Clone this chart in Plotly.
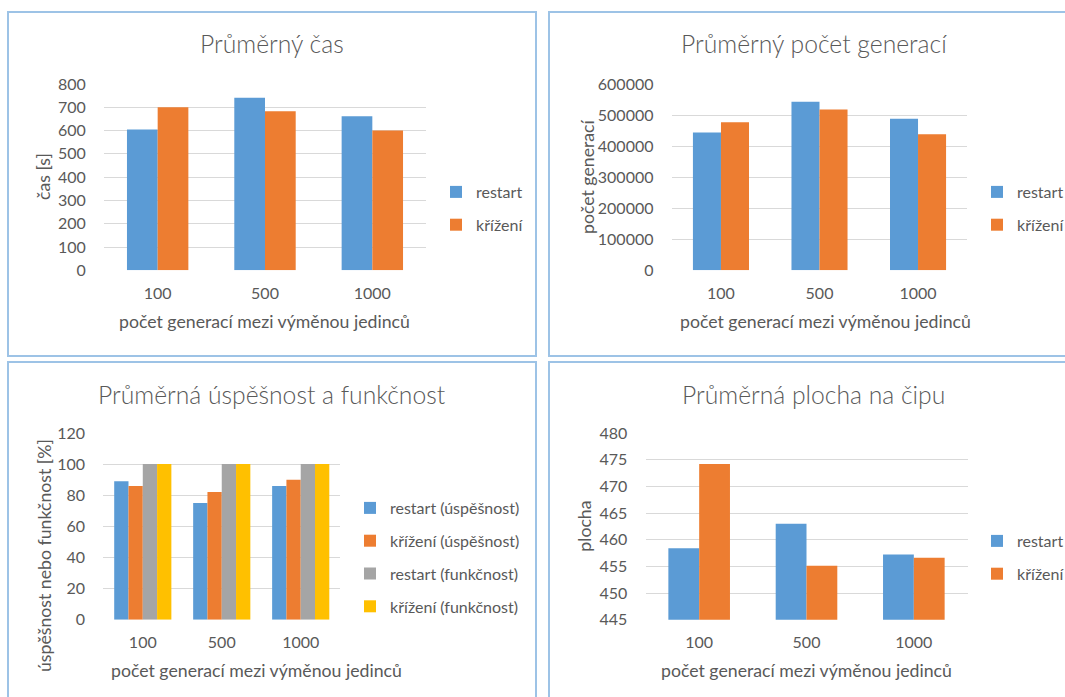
import plotly.graph_objects as go

W, H = 1065, 697

# ---------------- data ----------------
categories = ["100", "500", "1000"]

cas_restart = [605, 741, 661]
cas_krizeni = [700, 683, 600]

gen_restart = [444000, 543000, 488000]
gen_krizeni = [477000, 518000, 438000]

usp_restart = [89, 75, 86]
usp_krizeni = [86, 82, 90]
fun_restart = [100, 100, 100]
fun_krizeni = [100, 100, 100]

plocha_restart = [458.4, 463.0, 457.2]
plocha_krizeni = [474.2, 455.1, 456.6]

titles = ["Průměrný čas", "Průměrný počet generací",
          "Průměrná úspěšnost a funkčnost", "Průměrná plocha na čipu"]
ytitles = ["čas [s]", "počet generací", "úspěšnost nebo funkčnost [%]", "plocha"]
xtitle = "počet generací mezi výměnou jedinců"

# ---------------- style ----------------
BLUE, ORANGE, GRAY, YELLOW = "#5B9BD5", "#ED7D31", "#A5A5A5", "#FFC000"
TXT = "#595959"
GRID = "#D9D9D9"
BORDER = "#9DC3E6"
FONT = "Lato"


def px(x):
    return x / W


def py(y):
    return 1 - y / H


fig = go.Figure()

# plot areas in pixels: (x0, x1, ytop, ybottom)
areas = [
    (104, 426, 84, 270.3),
    (671.7, 967.3, 84, 270.3),
    (103.3, 340.2, 433, 619.7),
    (645.5, 967.5, 433, 619.7),
]
yranges = [[0, 800], [0, 600000], [0, 120], [445, 480]]
ydticks = [100, 100000, 20, 5]
bargaps = [0.428, 0.431, 0.276, 0.426]

panels = [
    [("restart", cas_restart, BLUE), ("křížení", cas_krizeni, ORANGE)],
    [("restart", gen_restart, BLUE), ("křížení", gen_krizeni, ORANGE)],
    [("restart (úspěšnost)", usp_restart, BLUE), ("křížení (úspěšnost)", usp_krizeni, ORANGE),
     ("restart (funkčnost)", fun_restart, GRAY), ("křížení (funkčnost)", fun_krizeni, YELLOW)],
    [("restart", plocha_restart, BLUE), ("křížení", plocha_krizeni, ORANGE)],
]

# legend left x (px) and vertical centre (px)
legend_pos = [(436, 208.5), (977, 208.5), (350, 557.5), (977, 557.5)]

for i, (area, series) in enumerate(zip(areas, panels)):
    n = i + 1
    xa = "x" if n == 1 else f"x{n}"
    ya = "y" if n == 1 else f"y{n}"
    lg = "legend" if n == 1 else f"legend{n}"
    k = len(series)
    bw = (1 - bargaps[i]) / k
    for j, (name, vals, col) in enumerate(series):
        fig.add_trace(go.Bar(
            x=categories, y=vals, name=name, marker=dict(color=col, line=dict(width=0)),
            width=bw, offset=-k * bw / 2 + j * bw,
            xaxis=xa, yaxis=ya, legend=lg, legendgroup=f"g{n}_{j}",
            hoverinfo="skip",
        ))
    x0, x1, yt, yb = area
    axis_font = dict(family=FONT, size=16, color=TXT)
    fig.update_layout(**{
        ("xaxis" if n == 1 else f"xaxis{n}"): dict(
            domain=[px(x0), px(x1)], anchor=ya, type="category",
            showgrid=False, zeroline=False, showline=False, automargin=False,
            ticks="outside", ticklen=8, tickcolor="rgba(0,0,0,0)",
            tickfont=axis_font, fixedrange=True,
        ),
        ("yaxis" if n == 1 else f"yaxis{n}"): dict(
            domain=[py(yb), py(yt)], anchor=xa, range=yranges[i], dtick=ydticks[i],
            tick0=yranges[i][0], automargin=False,
            showgrid=True, gridcolor=GRID, gridwidth=1, zeroline=False, showline=False,
            ticks="outside", ticklen=14, tickcolor="rgba(0,0,0,0)",
            tickfont=axis_font, fixedrange=True, tickformat="d",
        ),
    })
    lx, lyc = legend_pos[i]
    fig.update_layout(**{lg: dict(
        x=px(lx), y=py(lyc), xanchor="left", yanchor="middle",
        font=dict(family=FONT, size=16, color=TXT), bgcolor="rgba(0,0,0,0)",
        tracegroupgap=9, itemclick=False, itemdoubleclick=False,
    )})

# titles and axis titles as annotations
title_pos = [(272, 44), (814, 43.5), (272.4, 394), (813.5, 394)]
ytitle_pos = [(44, 177), (588, 177), (44, 556), (585, 526.7)]
xtitle_pos = [(264, 321), (825, 321), (256.5, 670), (806, 670)]
ann = []
for i in range(4):
    tx, ty = title_pos[i]
    ann.append(dict(text=titles[i], x=px(tx), y=py(ty), xref="paper", yref="paper",
                    xanchor="center", yanchor="middle", showarrow=False,
                    font=dict(family=FONT, size=24.7, color=TXT, weight=300)))
    ax, ay = ytitle_pos[i]
    ann.append(dict(text=ytitles[i], x=px(ax), y=py(ay), xref="paper", yref="paper",
                    xanchor="center", yanchor="middle", showarrow=False, textangle=-90,
                    font=dict(family=FONT, size=17.7, color=TXT)))
    bx, by = xtitle_pos[i]
    ann.append(dict(text=xtitle, x=px(bx), y=py(by), xref="paper", yref="paper",
                    xanchor="center", yanchor="middle", showarrow=False,
                    font=dict(family=FONT, size=17.7, color=TXT)))

# panel borders
borders = [(8, 536, 12, 356), (549, 1070, 12, 356), (8, 536, 362, 702), (549, 1070, 362, 702)]
shapes = []
for (bx0, bx1, by0, by1) in borders:
    shapes.append(dict(type="rect", xref="paper", yref="paper",
                       x0=px(bx0), x1=px(bx1), y0=py(by1), y1=py(by0),
                       line=dict(color=BORDER, width=2), fillcolor="rgba(0,0,0,0)", layer="below"))

fig.update_layout(
    width=W, height=H, margin=dict(l=0, r=0, t=0, b=0, autoexpand=False),
    paper_bgcolor="white", plot_bgcolor="white",
    barmode="group", annotations=ann, shapes=shapes, showlegend=True,
    font=dict(family=FONT, color=TXT),
)

fig.write_html(
    "out.html",
    config={"displayModeBar": False},
    post_script="document.body.style.margin='0';document.body.style.padding='0';"
                "document.body.style.overflow='hidden';"
                "document.documentElement.style.overflow='hidden';",
)
